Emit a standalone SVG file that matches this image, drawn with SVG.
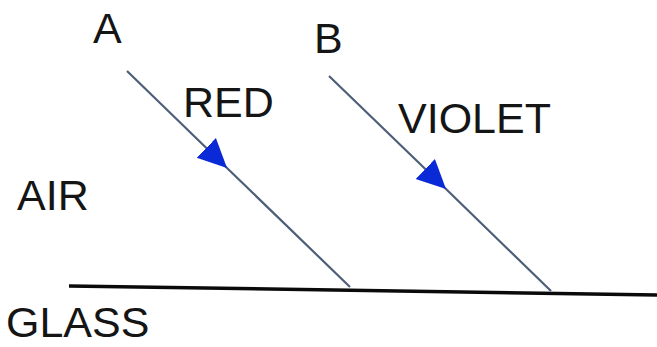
<svg xmlns="http://www.w3.org/2000/svg" width="657" height="347" viewBox="0 0 657 347">
  <style>
    .lbl { font-family: "Liberation Sans", Arial, sans-serif; font-size: 43px; fill: #151515; }
    .ray { fill: none; stroke: #4d5f78; stroke-width: 2.2; marker-mid: url(#head); }
    .surface { stroke: #0a0a0a; stroke-width: 3.5; }
  </style>
  <defs>
    <marker id="head" markerUnits="userSpaceOnUse" markerWidth="30" markerHeight="30" viewBox="0 -13 26 26" refX="25" refY="0" orient="auto">
      <path d="M0,-12 L25,0 L0,12 Z" fill="#0a2ad8"/>
    </marker>
  </defs>

  <g id="air-label"><text class="lbl" x="17" y="210">AIR</text></g>
  <g id="glass-label"><text class="lbl" x="6" y="337" font-size="41">GLASS</text></g>

  <g id="surface"><line class="surface" x1="69" y1="286" x2="657" y2="295"/></g>

  <g id="ray-a">
    <text class="lbl" x="93" y="43">A</text>
    <text class="lbl" x="183" y="117">RED</text>
  </g>
  <g id="ray-b">
    <text class="lbl" x="314" y="53">B</text>
    <text class="lbl" x="398" y="133">VIOLET</text>
  </g>

  <g id="connectors">
    <path class="ray" d="M127,71 L227,168 L350,287"/>
    <path class="ray" d="M329,76 L446,189 L551,291"/>
  </g>
</svg>
